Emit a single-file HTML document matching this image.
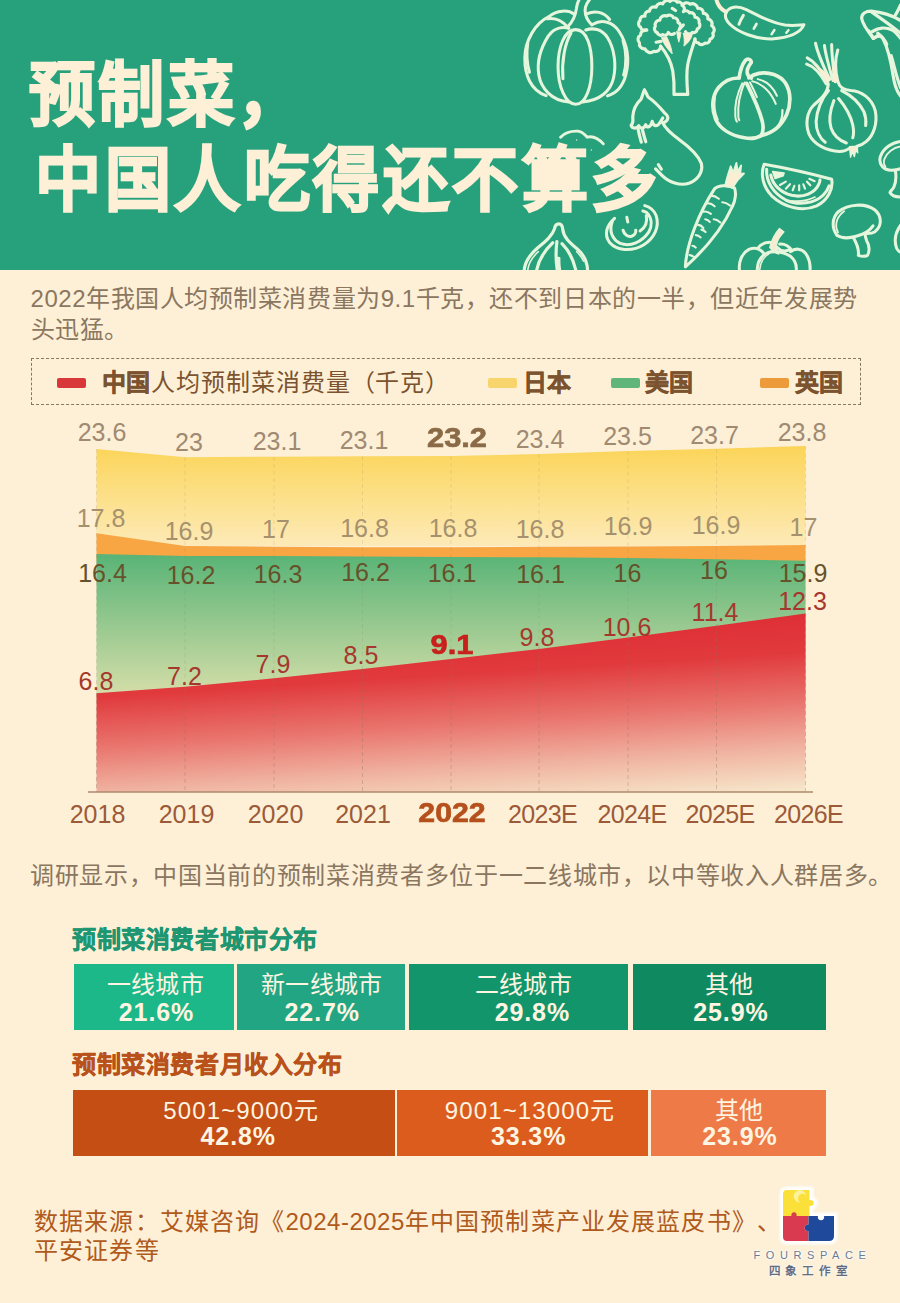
<!DOCTYPE html>
<html lang="zh-CN">
<head>
<meta charset="utf-8">
<title>预制菜，中国人吃得还不算多</title>
<style>
html,body{margin:0;padding:0;}
body{width:900px;height:1303px;background:#fdf0d7;font-family:"Liberation Sans",sans-serif;overflow:hidden;position:relative;}
.abs{position:absolute;}
#page{position:relative;width:900px;height:1303px;overflow:hidden;background:#fdf0d7;}
#header{position:absolute;left:0;top:0;width:900px;height:269.6px;background:#27a17c;overflow:hidden;}
#header h1{position:absolute;left:28.5px;top:54px;margin:0;font-size:66px;line-height:79.4px;font-weight:700;color:#fdf0d7;letter-spacing:3.5px;white-space:nowrap;-webkit-text-stroke:2.1px #fdf0d7;transform:scaleY(1.07);transform-origin:0 0;}
#header h1 span{display:block;}
#header h1 span+span{margin-left:6.5px;}
#veg{position:absolute;left:0;top:0;}
.para{position:absolute;margin:0;font-size:24px;line-height:31px;color:#8b765f;white-space:nowrap;letter-spacing:.55px;}
#legend{position:absolute;left:31px;top:358px;width:830px;height:47px;border:1px dashed #8b765f;box-sizing:border-box;}
#legend .sw{position:absolute;top:19px;width:29px;height:10px;border-radius:2px;}
#legend .lt{position:absolute;top:1px;line-height:45px;font-size:24px;color:#7b532f;white-space:nowrap;font-weight:700;letter-spacing:.45px;-webkit-text-stroke:.5px #7b532f;}
#legend .lt span{-webkit-text-stroke:0;letter-spacing:.95px;}
#legend .lt span{font-weight:400;}
#chart{position:absolute;left:0;top:410px;width:900px;height:430px;}
.v{position:absolute;font-size:25px;line-height:24px;width:90px;margin-left:-45px;text-align:center;white-space:nowrap;}
.r1{color:#a08a72;}
.r2{color:#a6916e;}
.r3{color:#66522a;}
.r4{color:#a5382c;}
.yr{color:#9c5a38;font-size:25px;}
.yr.e{letter-spacing:-.7px;}
.b{font-weight:700;font-size:28px;transform:scaleX(1.1);-webkit-text-stroke:.7px currentColor;}
.yr.b{font-size:28px;color:#b5501c;transform:scaleX(1.08);}
.r1.b{color:#8b6b47;}
.r4.b{color:#c8201c;}
.h2{position:absolute;margin:1px 0 0 0;font-size:24px;line-height:30px;font-weight:700;letter-spacing:.6px;white-space:nowrap;}
.bar{position:absolute;height:66px;color:#fdf5e2;text-align:center;}
.bar .t{position:absolute;left:0;right:0;top:6px;font-size:24px;line-height:30px;letter-spacing:.4px;white-space:nowrap;}
.bar .p{position:absolute;left:0;right:0;top:33px;font-size:25px;line-height:30px;font-weight:700;letter-spacing:.9px;white-space:nowrap;}
#src{position:absolute;left:34px;top:1207px;text-spacing-trim:space-all;margin:0;font-size:24px;line-height:29px;color:#b05a1c;letter-spacing:1.15px;white-space:nowrap;}
#logo{position:absolute;left:740px;top:1180px;width:140px;height:110px;}
#logo .en{position:absolute;left:0;width:140px;top:68px;text-align:center;font-size:11px;line-height:14px;letter-spacing:5.6px;color:#6d7b92;text-indent:5px;text-shadow:0 0 2px #fff,0 0 3px #fff,0 0 4px #fff;white-space:nowrap;}
#logo .cn{position:absolute;left:0;width:140px;top:84px;text-align:center;font-size:11.5px;line-height:14px;letter-spacing:5.8px;color:#596479;text-indent:1px;font-weight:400;-webkit-text-stroke:.35px #596479;text-shadow:0 0 2px #fff,0 0 3px #fff,0 0 4px #fff;white-space:nowrap;}
</style>
</head>
<body>
<div id="page">

<div id="header">
<svg id="veg" width="900" height="270" viewBox="0 0 900 270" fill="none" stroke="#e6f6dc" stroke-width="3" stroke-linecap="round" stroke-linejoin="round">
<!--VEG-->
<g transform="translate(515,0) scale(0.14445)" stroke-width="21.0">
<path d="M405 95C370 68 290 68 235 115C140 160 70 280 68 400C66 520 110 625 215 662"/>
<path d="M225 130C280 120 335 150 372 195"/>
<path d="M372 195C330 185 270 190 230 250C180 330 150 430 165 520C180 610 250 695 372 706"/>
<path d="M420 205C340 205 298 330 298 460C298 600 350 722 420 722C490 722 532 600 532 460C532 330 500 205 420 205Z"/>
<path d="M388 228C345 300 322 420 332 545"/>
<path d="M490 208C540 190 600 200 640 260C690 340 702 450 682 540C662 630 590 695 468 706"/>
<path d="M540 168C600 130 680 150 722 220C780 310 792 420 767 520C745 600 705 645 640 664"/>
<path d="M500 95C550 72 615 80 655 135"/>
<path d="M748 280C772 360 772 450 752 520"/>
<path d="M88 300C78 370 82 440 100 500"/>
<path d="M365 185C400 150 420 100 425 60C428 30 436 10 446 -8"/>
<path d="M532 172C500 140 478 100 488 50C494 25 505 10 520 -8"/>
</g>
<g transform="translate(630,0) scale(0.11111)" stroke-width="28.5">
<path d="M150 270A37 37 0 0 1 95 245A37 37 0 0 1 90 185A37 37 0 0 1 135 145A37 37 0 0 1 175 100A43 43 0 0 1 235 65A42 42 0 0 1 295 35A43 43 0 0 1 360 12A41 41 0 0 1 425 20A33 33 0 0 1 470 48A44 44 0 0 1 540 38A49 49 0 0 1 610 75A42 42 0 0 1 660 120A40 40 0 0 1 700 170A43 43 0 0 1 735 230A44 44 0 0 1 745 300A36 36 0 0 1 720 352A36 36 0 0 1 675 388A37 37 0 0 1 615 385A29 29 0 0 1 585 350"/>
<path d="M275 415A47 47 0 0 1 215 462A51 51 0 0 1 135 440A46 46 0 0 1 85 385A44 44 0 0 1 95 315A44 44 0 0 1 150 270"/>
<path d="M245 295A39 39 0 0 1 228 235A41 41 0 0 1 268 182A45 45 0 0 1 330 145A40 40 0 0 1 392 160A36 36 0 0 1 432 202A34 34 0 0 1 448 255"/>
<path d="M245 295A33 33 0 0 0 295 312A33 33 0 0 0 345 292A34 34 0 0 0 400 300"/>
<path d="M470 48A36 36 0 0 1 480 105A35 35 0 0 1 535 115A40 40 0 0 1 585 155A39 39 0 0 1 622 205A37 37 0 0 1 605 262A34 34 0 0 1 560 292A37 37 0 0 1 500 285"/>
<path d="M275 415C320 470 370 560 385 640C398 720 398 800 396 850L520 850C512 760 505 660 520 580C535 500 565 420 585 355"/>
<path d="M285 340L330 330C355 380 375 430 380 485C345 450 300 400 285 340Z" fill="#fbeed2" stroke-width="8"/>
<path d="M480 300L560 305C555 350 520 390 485 415C492 380 488 340 480 300Z" fill="#fbeed2" stroke-width="8"/>
<path d="M420 285L458 290C455 320 450 350 440 380C430 350 424 320 420 285Z" fill="#fbeed2" stroke-width="8"/>
<path d="M440 270L480 225M235 380L280 372M380 75L410 95"/>
</g>
<g transform="translate(705,0) scale(0.13333)" stroke-width="22.8">
<path d="M85 -5C95 40 120 70 155 88" stroke-width="30" stroke="#fbeed2"/>
<path d="M160 92C180 50 240 40 310 72C400 115 470 165 600 188C660 196 710 188 742 186C720 240 640 282 500 292C380 292 250 245 185 180C150 145 148 115 160 92Z"/>
<path d="M255 182C262 160 275 135 288 115" stroke-width="22"/>
<path d="M366 215L386 180" stroke-width="20"/>
<path d="M500 256L520 226" stroke-width="20"/>
<path d="M610 246L626 226" stroke-width="18"/>
</g>
<g transform="translate(800,0) scale(0.11111)" stroke-width="28.5">
<path d="M905 185C850 150 780 115 640 100C590 100 555 125 555 165C560 215 610 280 660 345"/>
<path d="M640 105C720 160 820 230 905 300"/>
<path d="M650 285C700 250 770 240 830 270C860 290 885 320 905 345"/>
<path d="M660 345C700 320 730 320 745 345C790 430 820 560 840 690C850 760 870 820 905 865"/>
<path d="M700 300C740 330 760 350 780 400" stroke-width="30"/>
<path d="M620 280L660 345L700 320" stroke-width="30"/>
<path d="M850 150C870 120 885 90 905 45"/>
<path d="M820 500C850 600 870 700 905 790"/>
</g>
<g transform="translate(795,35) scale(0.11111)" stroke-width="27.3">
<path d="M300 440C295 520 240 570 170 630C110 690 90 790 125 890C170 990 290 1045 400 1048C440 1048 470 1035 492 1018"/>
<path d="M388 425C400 470 440 495 500 500C600 505 690 570 722 680C745 790 710 900 640 960C610 985 585 995 558 1002"/>
<path d="M302 500C240 570 195 680 190 780C190 860 225 930 272 965"/>
<path d="M350 590C315 680 300 760 325 840C350 910 400 950 462 972"/>
<path d="M392 572C450 640 500 720 520 810C530 860 528 900 520 925"/>
<path d="M420 500C500 540 580 610 620 690C640 740 640 780 636 815"/>
<path d="M185 75C200 150 250 270 312 400M265 95C275 180 310 300 342 410M330 85C330 180 345 300 362 420M385 135C365 200 355 300 386 420"/>
<path d="M110 205C170 235 240 320 292 420M105 262C170 280 230 350 282 440"/>
<path d="M150 255C200 290 260 370 300 435L320 400C280 330 230 290 150 255Z" fill="#fbeed2" stroke="none"/>
<path d="M335 290L360 290L388 425L345 420Z" fill="#fbeed2" stroke="none"/>
<path d="M490 1005L560 1000L565 1060L545 1040L535 1095L515 1050L500 1100Z" fill="#fbeed2" stroke-width="12"/>
</g>
<g transform="translate(700,50) scale(0.11111)" stroke-width="33.3">
<path d="M352 252C290 250 220 275 165 340C110 410 100 520 140 620C180 710 280 770 400 790C450 800 500 800 550 770C640 750 730 690 780 580C820 490 820 380 770 300C720 225 620 195 530 210C490 218 460 235 440 250"/>
<path d="M352 252C360 190 380 130 410 92C430 72 460 85 462 112C440 140 420 170 425 205C428 230 445 245 462 252"/>
<path d="M380 300C335 390 310 500 318 600C320 620 325 635 332 645M402 292C360 390 338 500 345 600C346 615 350 625 354 632" stroke-width="18"/>
<path d="M420 300C470 400 530 520 560 640C575 700 570 740 548 772" />
<path d="M450 292C475 340 495 380 512 425" stroke-width="18"/>
<path d="M470 282C560 300 640 380 682 485" stroke-width="18"/>
<path d="M520 262C600 280 660 340 692 412" stroke-width="18"/>
<path d="M742 540C745 600 725 660 690 702" stroke-width="20"/>
<path d="M135 430C125 500 135 570 160 625" stroke-width="16"/>
</g>
<g transform="translate(620,80) scale(0.11111)" stroke-width="28.5">
<path d="M220 90C205 120 200 150 190 172C150 210 118 270 115 330C115 360 125 380 100 410C110 440 150 440 170 412C180 440 215 445 232 402C240 435 275 430 290 372C300 420 335 425 360 382C370 370 378 355 385 342"/>
<path d="M220 90C240 110 240 140 255 155C300 185 350 235 400 295C420 315 435 325 430 345C425 370 400 385 385 385"/>
<path d="M162 440C170 480 180 520 192 560M202 450C212 490 222 525 232 556"/>
<path d="M385 385C405 430 450 475 540 542C620 600 700 670 732 750C750 830 700 900 620 930C540 955 440 920 380 860C355 835 335 815 320 800"/>
<path d="M345 762L372 802"/>
</g>
<g transform="translate(540,110) scale(0.11111)" stroke-width="26.1">
<path d="M185 245C220 205 280 188 340 190C385 195 405 225 425 245C470 232 520 250 570 305"/>
<circle cx="330" cy="270" r="6" fill="#e6f6dc" stroke="none"/><circle cx="462" cy="360" r="6" fill="#e6f6dc" stroke="none"/>
</g>
<g transform="translate(590,155) scale(0.18889)" stroke-width="16.1">
<path d="M130 335C90 370 70 420 105 465C140 505 220 515 285 475C340 440 370 380 350 320C340 295 315 275 290 268"/>
<path d="M118 352C100 400 115 445 160 468C215 488 275 460 310 410C330 375 330 335 300 305C293 300 286 297 280 296"/>
<path d="M175 398C180 420 200 435 220 430C235 425 245 412 242 398"/>
<path d="M265 402C290 385 305 355 298 322"/>
<path d="M195 330L200 355" stroke-width="16"/>
<path d="M660 178C680 160 730 155 765 175C775 200 770 240 755 270C710 370 620 490 505 592C510 470 580 300 660 178Z"/>
<path d="M715 165C725 120 735 90 745 60L758 95L775 42L782 90L800 55L795 100L815 98C790 120 770 145 755 172Z" fill="#fbeed2" stroke-width="10"/>
<path d="M640 215C655 215 670 222 682 232M620 256C635 255 650 262 660 272M602 300C615 298 630 304 640 312M700 250C715 250 730 258 742 268M655 340C668 340 680 348 690 357M572 370C582 370 592 376 600 386M560 424C568 424 578 428 585 436M542 480C548 480 555 484 560 490M527 530C535 530 543 534 550 540M610 340C620 342 628 347 634 354M590 395C598 396 606 401 612 408" stroke-width="11"/>
</g>
<g transform="translate(750,135) scale(0.16667)" stroke-width="18.2">
<path d="M85 175C200 195 380 235 490 265C500 320 470 390 400 425C320 460 210 440 130 365C80 310 60 240 85 175Z"/>
<path d="M100 205C95 280 140 350 215 390C290 425 390 410 440 360C460 340 470 320 475 305"/>
<path d="M125 240C135 300 185 345 250 362C320 378 390 350 415 290C418 282 420 275 420 268"/>
<path d="M250 395C300 400 350 392 390 372" stroke-width="10"/>
<path d="M135 218L205 228L200 245L150 262Z" fill="#eaf7dd" stroke-width="8"/>
<path d="M180 300L215 280M215 322L240 295M256 332L266 305M295 332L295 302M330 322L320 296M362 302L342 280M388 277L356 263" stroke-width="13"/>
<path d="M522 602C490 560 490 500 530 460C590 415 690 405 750 450C790 485 795 545 750 580C735 590 710 592 685 590"/>
<path d="M522 602C555 625 610 618 660 600C700 588 720 570 738 545"/>
<path d="M528 585C505 540 520 490 565 458" stroke-width="11"/>
<path d="M620 615C640 650 655 690 650 722C670 730 690 728 702 725C722 700 715 660 700 635C695 620 692 608 690 595"/>
<path d="M905 38C850 45 800 80 782 130C770 175 800 210 850 212C870 212 890 208 905 202"/>
<path d="M905 68C860 75 820 105 806 145C800 165 804 180 812 190" stroke-width="11"/>
<path d="M872 212C878 250 875 290 862 315C852 330 842 338 840 345C850 365 875 372 905 372"/>
<path d="M905 540C875 580 862 630 880 680C886 692 895 700 905 704"/>
</g>
<g transform="translate(725,215) scale(0.11111)" stroke-width="27.3">
<path d="M490 120L532 152C500 185 470 225 465 270C462 300 470 330 485 352C455 345 425 325 402 292C415 240 445 170 490 120Z" fill="#f7ecd0" stroke-width="10"/>
<path d="M130 495C122 420 150 345 215 310C260 290 310 300 345 340"/>
<path d="M290 495C292 430 320 370 380 342C440 318 530 330 590 372C630 405 645 450 642 495"/>
<path d="M312 495C318 430 345 380 392 352" stroke-width="14"/>
<path d="M292 302C320 262 360 245 405 245"/>
<path d="M492 262C540 258 585 285 602 322"/>
<path d="M590 330C630 295 690 300 725 345C755 385 768 440 766 495"/>
<path d="M470 292C500 325 545 330 585 312"/>
</g>
<g transform="translate(510,205) scale(0.11111)" stroke-width="28.5">
<path d="M128 585C135 510 180 445 250 385C320 330 380 280 400 215C405 185 420 170 440 170C462 170 472 190 475 220C480 290 540 340 610 400C660 445 695 510 698 585"/>
<path d="M160 585C168 520 205 465 255 420" stroke-width="14"/>
<path d="M240 585C260 490 310 410 385 340"/>
<path d="M425 585C412 500 412 410 422 330M446 585C440 540 438 510 440 480"/>
<path d="M592 585C570 490 530 410 468 348"/>
<path d="M662 505C645 470 625 445 600 420" stroke-width="14"/>
</g>
<!--/VEG-->
</svg>
<h1><span>预制菜，</span><span>中国人吃得还不算多</span></h1>
</div>

<p class="para" style="left:30.5px;top:283px;">2022年我国人均预制菜消费量为9.1千克，还不到日本的一半，但近年发展势<br>头迅猛。</p>

<div id="legend">
  <div class="sw" style="left:25px;background:#d8383a;"></div>
  <div class="lt" style="left:70px;">中国<span>人均预制菜消费量（千克）</span></div>
  <div class="sw" style="left:456px;background:#f8d56c;"></div>
  <div class="lt" style="left:490.5px;">日本</div>
  <div class="sw" style="left:579px;background:#5fb57a;"></div>
  <div class="lt" style="left:612.5px;">美国</div>
  <div class="sw" style="left:728px;background:#ec9a3a;"></div>
  <div class="lt" style="left:763px;">英国</div>
</div>

<div id="chart">
<svg class="abs" style="left:0;top:0" width="900" height="430" viewBox="0 410 900 430">
<defs>
<linearGradient id="gy" x1="0" y1="446" x2="0" y2="548" gradientUnits="userSpaceOnUse"><stop offset="0" stop-color="#fbd458"/><stop offset=".45" stop-color="#fcdf84"/><stop offset="1" stop-color="#fdeaba"/></linearGradient>
<linearGradient id="gg" x1="0" y1="556" x2="0" y2="696" gradientUnits="userSpaceOnUse"><stop offset="0" stop-color="#5ab477"/><stop offset="1" stop-color="#d6dea9"/></linearGradient>
<linearGradient id="gr" x1="805" y1="613" x2="816.3" y2="791.1" gradientUnits="userSpaceOnUse"><stop offset="0" stop-color="#de2f36"/><stop offset=".22" stop-color="#e13a3d"/><stop offset=".5" stop-color="#e9756e"/><stop offset=".75" stop-color="#f0b3a1"/><stop offset=".9" stop-color="#f4d3ba"/><stop offset="1" stop-color="#f6e8cc"/></linearGradient>
</defs>
<path d="M96.5 449 L185 457.3 L274 456.7 L362.5 456.3 L451 456 L539 454 L628 451 L716.5 448.7 L805.5 446 L805.5 546 L96.5 546 Z" fill="url(#gy)"/>
<path d="M96.5 533.3 L185 546 L274 546.7 L362.5 547.3 L451 547.3 L539 546.8 L628 546.6 L716.5 546 L805.5 545 L805.5 561 L96.5 561 Z" fill="#f7a643"/>
<path d="M96.5 554 L185 556 L274 556 L362.5 556.6 L451 557 L539 557.3 L628 558 L716.5 559.3 L805.5 560.7 L805.5 700 L96.5 700 Z" fill="url(#gg)"/>
<path d="M96.5 693.3 L185 686.7 L274 678.3 L362.5 669 L451 659 L539 649 L628 637.5 L716.5 625.8 L805.5 613.5 L805.5 792 L96.5 792 Z" fill="url(#gr)"/>
<g stroke="#8b765f" stroke-width="1" stroke-dasharray="4 3">
<path stroke-opacity=".16" d="M96.5 449V693M185 457V688M274 457V679M362.5 456V668M451 456V660M539 454V647M628 451V635M716.5 449V624M805.5 446V613"/>
<path stroke-opacity=".34" d="M96.5 693V792M185 688V792M274 679V792M362.5 668V792M451 660V792M539 647V792M628 635V792M716.5 624V792M805.5 613V792"/>
</g>
<path d="M88 792H813" stroke="#ae8a6c" stroke-width="1.6"/>
</svg>
<!--LABELS-->
<div class="v r1" style="left:102px;top:10.3px">23.6</div>
<div class="v r1" style="left:189px;top:20.3px">23</div>
<div class="v r1" style="left:277px;top:19.3px">23.1</div>
<div class="v r1" style="left:364px;top:17.8px">23.1</div>
<div class="v r1 b" style="left:457px;top:16.3px">23.2</div>
<div class="v r1" style="left:540px;top:16.8px">23.4</div>
<div class="v r1" style="left:627.5px;top:14.3px">23.5</div>
<div class="v r1" style="left:714.5px;top:13.3px">23.7</div>
<div class="v r1" style="left:802px;top:10.3px">23.8</div>
<div class="v r2" style="left:101px;top:95.8px">17.8</div>
<div class="v r2" style="left:189px;top:109.3px">16.9</div>
<div class="v r2" style="left:276px;top:106.8px">17</div>
<div class="v r2" style="left:364.5px;top:105.8px">16.8</div>
<div class="v r2" style="left:453px;top:106.3px">16.8</div>
<div class="v r2" style="left:540px;top:106.8px">16.8</div>
<div class="v r2" style="left:628px;top:104.3px">16.9</div>
<div class="v r2" style="left:716px;top:102.8px">16.9</div>
<div class="v r2" style="left:803.5px;top:105.3px">17</div>
<div class="v r3" style="left:102.5px;top:150.8px">16.4</div>
<div class="v r3" style="left:191px;top:153.3px">16.2</div>
<div class="v r3" style="left:278px;top:151.8px">16.3</div>
<div class="v r3" style="left:365.5px;top:150.3px">16.2</div>
<div class="v r3" style="left:452px;top:151.3px">16.1</div>
<div class="v r3" style="left:540.5px;top:151.8px">16.1</div>
<div class="v r3" style="left:627.5px;top:150.8px">16</div>
<div class="v r3" style="left:714px;top:148.3px">16</div>
<div class="v r3" style="left:803px;top:150.8px">15.9</div>
<div class="v r4" style="left:96px;top:258.7px">6.8</div>
<div class="v r4" style="left:184.5px;top:253.7px">7.2</div>
<div class="v r4" style="left:273px;top:242.2px">7.9</div>
<div class="v r4" style="left:361px;top:232.7px">8.5</div>
<div class="v r4 b" style="left:452px;top:222.7px">9.1</div>
<div class="v r4" style="left:537px;top:215.2px">9.8</div>
<div class="v r4" style="left:627px;top:204.7px">10.6</div>
<div class="v r4" style="left:715px;top:190.2px">11.4</div>
<div class="v r4" style="left:802.5px;top:178.7px">12.3</div>
<div class="v yr" style="left:97.5px;top:392.3px">2018</div>
<div class="v yr" style="left:186.5px;top:392.3px">2019</div>
<div class="v yr" style="left:275.5px;top:392.3px">2020</div>
<div class="v yr" style="left:363px;top:392.3px">2021</div>
<div class="v yr b" style="left:451.5px;top:391.3px">2022</div>
<div class="v yr e" style="left:542.5px;top:392.3px">2023E</div>
<div class="v yr e" style="left:632px;top:392.3px">2024E</div>
<div class="v yr e" style="left:720px;top:392.3px">2025E</div>
<div class="v yr e" style="left:808.5px;top:392.3px">2026E</div>
<!--/LABELS-->
</div>

<p class="para" style="left:30px;top:860px;letter-spacing:.66px;">调研显示，中国当前的预制菜消费者多位于一二线城市，以中等收入人群居多。</p>

<h2 class="h2" style="left:72px;top:924px;color:#1e9672;-webkit-text-stroke:.5px #1e9672;">预制菜消费者城市分布</h2>
<div class="bar" style="left:74px;top:964px;width:160px;background:#1db889;"><div class="t" style="left:3px">一线城市</div><div class="p" style="left:5px">21.6%</div></div>
<div class="bar" style="left:236.5px;top:964px;width:168.5px;background:#22a583;"><div class="t" style="left:2px">新一线城市</div><div class="p" style="left:3px">22.7%</div></div>
<div class="bar" style="left:408.7px;top:964px;width:219.3px;background:#12956b;"><div class="t" style="left:10px">二线城市</div><div class="p" style="left:28px">29.8%</div></div>
<div class="bar" style="left:632.5px;top:964px;width:193.8px;background:#0f8a60;"><div class="t">其他</div><div class="p" style="left:3px">25.9%</div></div>

<h2 class="h2" style="left:72px;top:1049px;color:#b8521a;-webkit-text-stroke:.5px #b8521a;">预制菜消费者月收入分布</h2>
<div class="bar" style="left:72.5px;top:1090px;width:322.5px;background:#c44e14;"><div class="t" style="left:15px;letter-spacing:1.1px">5001~9000元</div><div class="p" style="left:9px;top:30.5px">42.8%</div></div>
<div class="bar" style="left:397.4px;top:1090px;width:250.4px;background:#dc5c1e;"><div class="t" style="left:15px;letter-spacing:1.15px">9001~13000元</div><div class="p" style="left:12px;top:30.5px">33.3%</div></div>
<div class="bar" style="left:650.6px;top:1090px;width:175.7px;background:#ee7a48;"><div class="t" style="left:1px">其他</div><div class="p" style="left:3px;top:30.5px">23.9%</div></div>

<p id="src">数据来源：艾媒咨询《<span style="letter-spacing:.5px">2024-2025</span>年中国预制菜产业发展蓝皮书》、<br>平安证券等</p>

<div id="logo">
<svg class="abs" style="left:30px;top:0" width="80" height="70" viewBox="770 1180 80 70">
<defs><filter id="glow" x="-30%" y="-30%" width="160%" height="160%"><feGaussianBlur stdDeviation="1.2"/></filter></defs>
<g filter="url(#glow)" fill="#fff" stroke="#fff" stroke-width="6.5">
<path d="M787 1190H810V1241H787Q783 1241 783 1237V1194Q783 1190 787 1190Z"/><path d="M808 1216H834V1236Q834 1241 829 1241H808Z"/><circle cx="811.5" cy="1203" r="3"/>
</g>
<path d="M787 1190H809.5V1200.3A3 3 0 1 1 809.5 1205.7V1216H783V1194Q783 1190 787 1190Z" fill="#fbe03a"/>
<circle cx="800" cy="1196.3" r="6.2" fill="#fdf29c"/><circle cx="802.6" cy="1198.4" r="4.6" fill="#fbe03a"/>
<path d="M783 1216H791.5A2.7 2.7 0 1 1 796.5 1216H808.5V1224.5A3.3 3.3 0 1 0 808.5 1231V1241H787Q783 1241 783 1237Z" fill="#da3a50"/>
<path d="M808.5 1216H818A3.2 3.2 0 1 0 824 1216H834V1236Q834 1241 829 1241H808.5V1231A3.3 3.3 0 1 1 808.5 1224.5Z" fill="#1f4a9c"/>
</svg>
<div class="en">FOURSPACE</div>
<div class="cn">四象工作室</div>
</div>


</div>
</body>
</html>
